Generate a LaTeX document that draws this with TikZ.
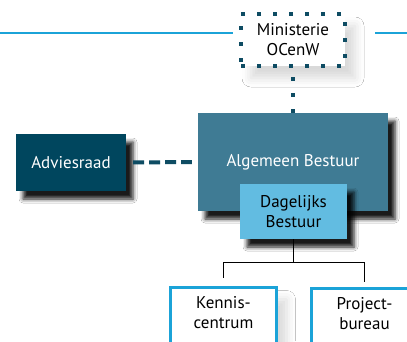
\documentclass[tikz,border=0pt]{standalone}
\usepackage{fontspec}
\setmainfont{PT Sans}
\usepackage{xcolor}
\usetikzlibrary{positioning,shadows.blur}

\definecolor{darkteal}{HTML}{00465E}
\definecolor{dotteal}{HTML}{0E4C63}
\definecolor{midteal}{HTML}{3F7B94}
\definecolor{lightblue}{HTML}{62BCE1}
\definecolor{lineblue}{HTML}{1BA3D8}

\begin{document}
\begin{tikzpicture}[x=1pt,y=-1pt,
  font=\fontsize{17}{20}\selectfont,
  darkshadow/.style={blur shadow={shadow xshift=7pt,shadow yshift=-8pt,shadow opacity=90,shadow blur radius=4pt}},
  lightshadow/.style={blur shadow={shadow xshift=10pt,shadow yshift=-12pt,shadow opacity=15,shadow blur radius=9pt}},
  subbox/.style={draw=lineblue,line width=3pt,fill=white,minimum width=106pt,inner ysep=9pt,align=center,lightshadow}]

\useasboundingbox (0,0) rectangle (407,341);
\clip (0,0) rectangle (407,341);
\fill[white] (0,0) rectangle (407,341);

% top rule
\draw[lineblue, line width=1.5pt] (0,33) -- (233,33);
\draw[lineblue, line width=1.5pt] (375,33) -- (407,33);

\node[draw=dotteal, line width=4pt, dash pattern=on 4pt off 12pt, fill=white,
      minimum width=104pt, minimum height=52pt, align=center, lightshadow] (mini) at (293,40) {Ministerie\\OCenW};

\node[fill=midteal, text=white, minimum width=190pt, minimum height=98pt, darkshadow] (alg) at (293,162) {Algemeen Bestuur};
\node[fill=darkteal, text=white, minimum width=110pt, minimum height=57pt, darkshadow] (adv) at (71,162.5) {Adviesraad};
\node[fill=lightblue, minimum width=107pt, minimum height=55pt, align=center, darkshadow] (dag) at (293.5,211.5) {Dagelijks\\Bestuur};

\node[subbox, anchor=north, text depth=50pt] (ken) at (223.5,286) {Kennis-\\centrum};
\node[subbox, anchor=north, text depth=50pt] (proj) at (364.5,287) {Project-\\bureau};

\draw[dotteal, line width=4pt, dash pattern=on 4pt off 12pt, dash phase=7pt] (mini.south) -- (alg.north);
\draw[dotteal, line width=4pt, dash pattern=on 11pt off 5pt, shorten <=7pt, shorten >=6pt] (adv.east) -- (alg.west);

\draw[black, line width=1pt] (dag.south) -- ++(0,23) -| ([yshift=8pt]ken.north);
\draw[black, line width=1pt] (dag.south) ++(0,23) -| ([yshift=5pt]proj.north);

\end{tikzpicture}
\end{document}
